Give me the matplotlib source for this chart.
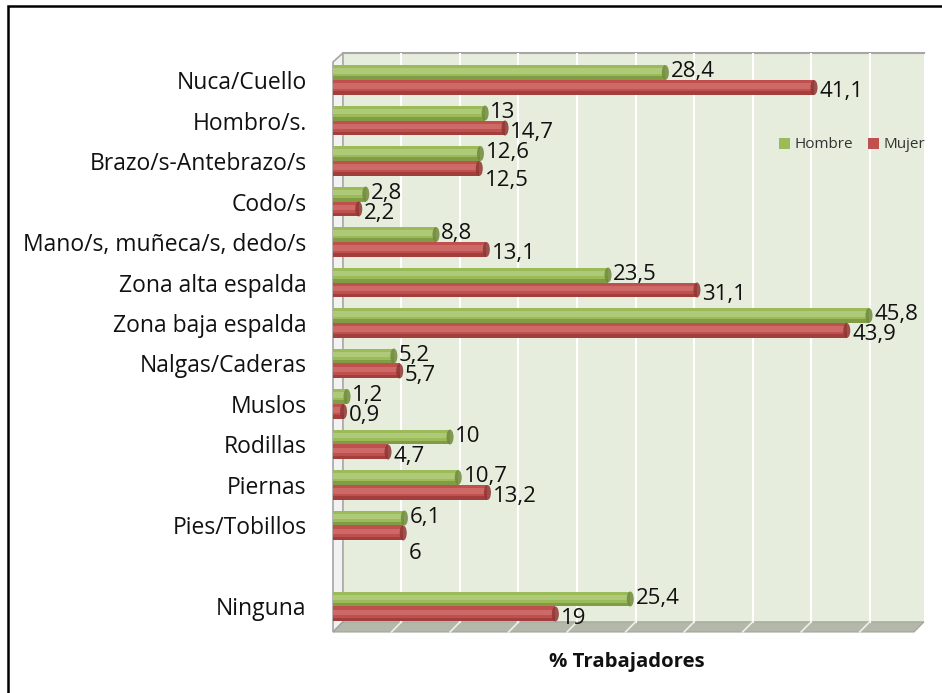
import numpy as np
import matplotlib
matplotlib.use('Agg')
import matplotlib.pyplot as plt
from matplotlib.patches import Polygon, Rectangle, Patch, Ellipse

plt.rcParams['font.family'] = ['Open Sans', 'DejaVu Sans']

# data
categorias = ['Nuca/Cuello', 'Hombro/s.', 'Brazo/s-Antebrazo/s', 'Codo/s',
              'Mano/s, muñeca/s, dedo/s', 'Zona alta espalda', 'Zona baja espalda',
              'Nalgas/Caderas', 'Muslos', 'Rodillas', 'Piernas', 'Pies/Tobillos',
              '', 'Ninguna']
hombre = [28.4, 13, 12.6, 2.8, 8.8, 23.5, 45.8, 5.2, 1.2, 10, 10.7, 6.1, None, 25.4]
mujer = [41.1, 14.7, 12.5, 2.2, 13.1, 31.1, 43.9, 5.7, 0.9, 4.7, 13.2, 6, None, 19]
series_names = ['Hombre', 'Mujer']

verde = '#9bbb59'
rojo = '#c0504d'
verde_claro = '#bcd48c'
rojo_claro = '#d77c79'
verde_osc = '#6f8a3a'
rojo_osc = '#8e3532'

fig = plt.figure(figsize=(9.42, 6.93), dpi=100)
W, H = 942.0, 693.0
# axes in pixel geometry of the reference
ax = fig.add_axes([333 / W, 1 - 632 / H, (924 - 333) / W, (632 - 53) / H])
ax.set_facecolor('none')
ax.set_xlim(0, 50.5)
ax.set_ylim(13.63, -0.667)

# 3D depth offsets
dx = 0.85
dy_back = 13.38
y_top_back = -0.667
y_top_front = -0.444
y_bot = 13.63

# back wall
ax.add_patch(Rectangle((dx, y_top_back), 50.5 - dx, dy_back - y_top_back,
                       facecolor='#e7eddc', edgecolor='none', zorder=0, clip_on=False))
ax.plot([dx, 50.5], [y_top_back, y_top_back], color='#a6a6a6', lw=1.5, zorder=1, clip_on=False)
# side wall
ax.add_patch(Polygon([(0, y_top_front), (dx, y_top_back), (dx, dy_back), (0, y_bot)],
                     closed=True, facecolor='#f2f2f2', edgecolor='#a6a6a6', lw=1.2,
                     zorder=1, clip_on=False))
# floor
ax.add_patch(Polygon([(0, y_bot), (50.5 - dx, y_bot), (50.5, dy_back), (dx, dy_back)],
                     closed=True, facecolor='#b4b8ab', edgecolor='#a0a49a', lw=0.8,
                     zorder=1, clip_on=False))
# gridlines
for g in np.arange(5, 50, 5):
    ax.plot([g + dx, g + dx], [y_top_back, dy_back], color='white', lw=1.5, zorder=1)
    ax.plot([g + dx, g], [dy_back, y_bot], color='#eef0ea', lw=1.2, zorder=1, clip_on=False)

h = 0.37
for i in range(len(categorias)):
    for vals, off, c, cl, co in [(hombre, -h / 2, verde, verde_claro, verde_osc),
                                 (mujer, h / 2, rojo, rojo_claro, rojo_osc)]:
        v = vals[i]
        if v is None:
            continue
        y = i + off
        ax.barh(y, v, height=h, color=c, edgecolor='none', zorder=3)
        ax.barh(y - h * 0.1, v, height=h * 0.35, color=cl, edgecolor='none', zorder=4, alpha=0.6)
        ax.barh(y + h * 0.38, v, height=h * 0.24, color=co, edgecolor='none', zorder=4, alpha=0.6)
        ax.add_patch(Ellipse((v, y), 0.6, h, facecolor=co, edgecolor='none', zorder=5, alpha=0.85))

# data labels
for i in range(len(categorias)):
    if hombre[i] is not None:
        ax.text(hombre[i] + 0.45, i - h / 2 - 0.02, str(hombre[i]).replace('.', ','),
                ha='left', va='center', fontsize=16, color='#111111', zorder=6)
    if mujer[i] is not None:
        dy = 0.5 if i == 11 else (0.3 if i == 2 else 0.1)
        ax.text(mujer[i] + 0.45, i + h / 2 + dy, str(mujer[i]).replace('.', ','),
                ha='left', va='center', fontsize=16, color='#111111', zorder=6)

pos = [i for i, c in enumerate(categorias) if c]
ax.set_yticks(pos)
ax.set_yticklabels([categorias[i] for i in pos], fontsize=16.5, color='#111111')
ax.tick_params(axis='y', length=0, pad=19)
ax.set_xticks([])
for s in ax.spines.values():
    s.set_visible(False)

handles = [Patch(facecolor=verde, edgecolor='none'), Patch(facecolor=rojo, edgecolor='none')]
fig.legend(handles, series_names, loc='center', bbox_to_anchor=(852 / W, 1 - 145 / H),
           ncol=2, frameon=False, fontsize=11, handlelength=0.7, handleheight=0.7,
           handletextpad=0.3, columnspacing=1.0, labelcolor='#333333')

fig.text(627 / W, 1 - 662 / H, '% Trabajadores', ha='center', va='center',
         fontsize=14.7, fontweight='bold', color='#111111')

# outer border
fig.add_artist(Rectangle((8 / W, -0.05), 1.2, 1 - 6 / H + 0.05, transform=fig.transFigure,
                         facecolor='none', edgecolor='black', lw=1.8))

fig.savefig('out.png', dpi=100)
